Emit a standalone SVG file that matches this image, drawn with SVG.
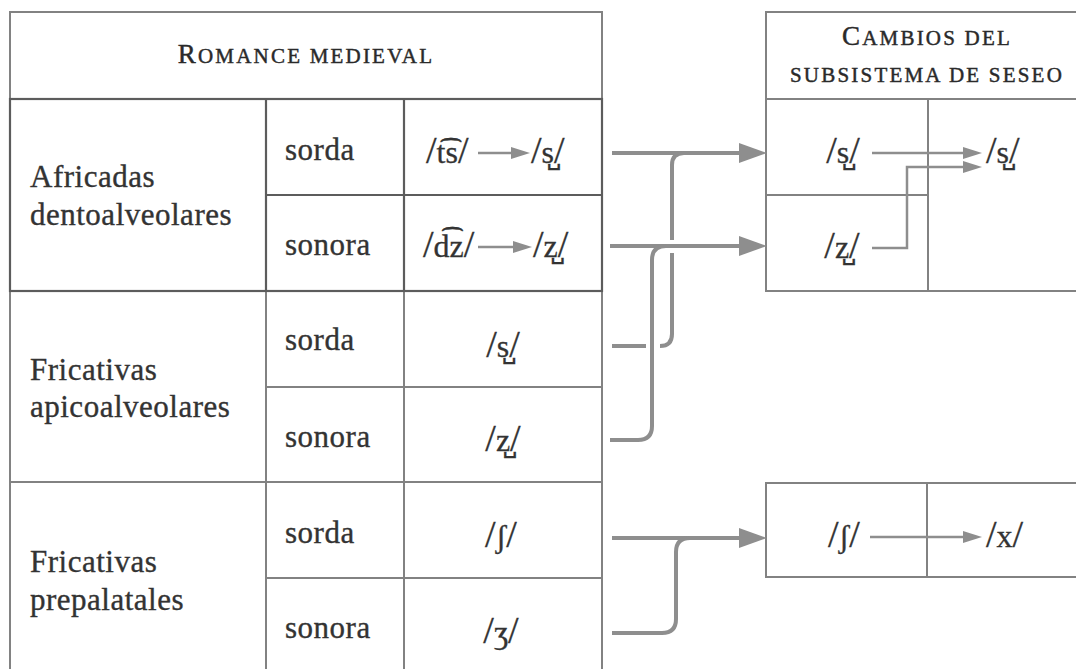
<svg xmlns="http://www.w3.org/2000/svg" width="1076" height="669" viewBox="0 0 1076 669">
<style>
  .t { font-family: "Liberation Serif", "DejaVu Serif", serif; font-size: 31px; fill: #333; stroke: #333; stroke-width: 0.35px; letter-spacing: 0.5px; }
  .ph { font-family: "Liberation Serif", "DejaVu Serif", serif; font-size: 32px; fill: #333; stroke: #333; stroke-width: 0.3px; }
  .sl { font-size: 38px; }
  .hdr { font-family: "Liberation Serif", "DejaVu Serif", serif; fill: #2a2a2a; stroke: #2a2a2a; stroke-width: 0.45px; letter-spacing: 2.2px; }
  .cap { font-size: 27px; }
  .sc { font-size: 21px; }
  .ln { stroke: #828282; stroke-width: 2; fill: none; }
  .dk { stroke: #5c5c5c; stroke-width: 2.2; fill: none; }
  .big { stroke: #8e8e8e; stroke-width: 4; fill: none; }
  .sm { stroke: #8e8e8e; stroke-width: 2.5; fill: none; }
</style>
<defs>
  <marker id="headBig" viewBox="0 0 28 20" refX="13" refY="10" markerWidth="28" markerHeight="20" markerUnits="userSpaceOnUse" orient="auto">
    <path d="M0,0 L28,10 L0,20 z" fill="#8e8e8e"/>
  </marker>
  <marker id="headSm" viewBox="0 0 19 12" refX="10" refY="6" markerWidth="19" markerHeight="12" markerUnits="userSpaceOnUse" orient="auto">
    <path d="M0,0 L19,6 L0,12 z" fill="#8e8e8e"/>
  </marker>
</defs>
<rect width="1076" height="669" fill="#ffffff"/>

<g id="romance-table">
  <path class="ln" d="M10,680 V12 H602 V680"/>
  <path class="ln" d="M10,99 H602"/>
  <path class="ln" d="M266,99 V680 M404,99 V680"/>
  <path class="ln" d="M266,387 H602 M10,482 H602 M266,578 H602"/>
  <text class="hdr" x="306" y="63" text-anchor="middle"><tspan class="cap">R</tspan><tspan class="sc">OMANCE MEDIEVAL</tspan></text>
</g>

<g id="africadas">
  <rect class="dk" x="10" y="99" width="592" height="192"/>
  <path class="dk" d="M266,99 V291 M404,99 V291 M266,195 H602"/>
  <text class="t" x="30" y="187">Africadas</text>
  <text class="t" x="30" y="225">dentoalveolares</text>
  <text class="t" x="285" y="160">sorda</text>
  <text class="t" x="285" y="255">sonora</text>
  <text class="ph" x="426" y="163"><tspan class="sl">/</tspan>t͡s<tspan class="sl">/</tspan></text>
  <text class="ph" x="531" y="163"><tspan class="sl">/</tspan>s̺<tspan class="sl">/</tspan></text>
  <text class="ph" x="423" y="257"><tspan class="sl">/</tspan>d͡z<tspan class="sl">/</tspan></text>
  <text class="ph" x="533" y="257"><tspan class="sl">/</tspan>z̺<tspan class="sl">/</tspan></text>
  <path class="sm" d="M478,153 H521" marker-end="url(#headSm)"/>
  <path class="sm" d="M478,247 H523" marker-end="url(#headSm)"/>
</g>

<g id="apicoalveolares">
  <text class="t" x="30" y="380">Fricativas</text>
  <text class="t" x="30" y="417">apicoalveolares</text>
  <text class="t" x="285" y="350">sorda</text>
  <text class="t" x="285" y="447">sonora</text>
  <text class="ph" x="503" y="357" text-anchor="middle"><tspan class="sl">/</tspan>s̺<tspan class="sl">/</tspan></text>
  <text class="ph" x="503" y="451" text-anchor="middle"><tspan class="sl">/</tspan>z̺<tspan class="sl">/</tspan></text>
</g>

<g id="prepalatales">
  <text class="t" x="30" y="572">Fricativas</text>
  <text class="t" x="30" y="610">prepalatales</text>
  <text class="t" x="285" y="543">sorda</text>
  <text class="t" x="285" y="638">sonora</text>
  <text class="ph" x="501" y="547" text-anchor="middle"><tspan class="sl">/</tspan>ʃ<tspan class="sl">/</tspan></text>
  <text class="ph" x="501" y="643" text-anchor="middle"><tspan class="sl">/</tspan>ʒ<tspan class="sl">/</tspan></text>
</g>

<g id="seseo-box">
  <path class="ln" d="M1080,12 H766 V291 H1080"/>
  <path class="ln" d="M766,99 H1080 M928,99 V291 M766,195 H928"/>
  <text class="hdr" x="927" y="45" text-anchor="middle"><tspan class="cap">C</tspan><tspan class="sc">AMBIOS DEL</tspan></text>
  <text class="hdr sc" x="927" y="82" text-anchor="middle">SUBSISTEMA DE SESEO</text>
  <text class="ph" x="843" y="163" text-anchor="middle"><tspan class="sl">/</tspan>s̺<tspan class="sl">/</tspan></text>
  <text class="ph" x="842" y="258" text-anchor="middle"><tspan class="sl">/</tspan>z̺<tspan class="sl">/</tspan></text>
  <text class="ph" x="986" y="163"><tspan class="sl">/</tspan>s̺<tspan class="sl">/</tspan></text>
  <path class="sm" d="M872,153 H973" marker-end="url(#headSm)"/>
  <path class="sm" d="M872,248 H907 V167 H973" marker-end="url(#headSm)"/>
</g>

<g id="prepalatal-box">
  <path class="ln" d="M1080,483 H766 V577 H1080"/>
  <path class="ln" d="M927,483 V577"/>
  <text class="ph" x="844" y="547" text-anchor="middle"><tspan class="sl">/</tspan>ʃ<tspan class="sl">/</tspan></text>
  <text class="ph" x="986" y="547"><tspan class="sl">/</tspan>x<tspan class="sl">/</tspan></text>
  <path class="sm" d="M870,537 H973" marker-end="url(#headSm)"/>
</g>

<g id="connectors">
  <path class="big" d="M612,153 H752" marker-end="url(#headBig)"/>
  <path class="big" d="M610,246 H752" marker-end="url(#headBig)"/>
  <path class="big" d="M612,346 H646"/>
  <path class="big" d="M660,346 Q672,346 672,334 V253"/>
  <path class="big" d="M672,240 V165 Q672,153 684,153"/>
  <path class="big" d="M610,440 H638 Q652,440 652,426 V260 Q652,246 666,246"/>
  <path class="big" d="M612,538 H752" marker-end="url(#headBig)"/>
  <path class="big" d="M612,633 H662 Q676,633 676,619 V552 Q676,538 690,538"/>
</g>
</svg>
